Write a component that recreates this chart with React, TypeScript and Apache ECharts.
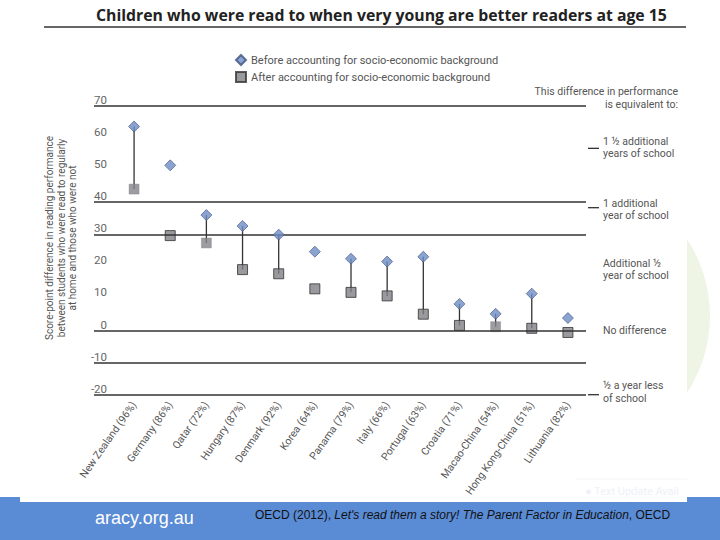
import React, { useEffect, useRef } from "react";
import * as echarts from "echarts";

const categories = [
  "New Zealand (96%)",
  "Germany (86%)",
  "Qatar (72%)",
  "Hungary (87%)",
  "Denmark (92%)",
  "Korea (64%)",
  "Panama (79%)",
  "Italy (66%)",
  "Portugal (63%)",
  "Croatia (71%)",
  "Macao-China (54%)",
  "Hong Kong-China (51%)",
  "Lithuania (82%)",
];
const beforeValues = [63.6, 51.5, 36.0, 32.6, 29.9, 24.6, 22.4, 21.5, 23.0, 8.3, 5.2, 11.5, 3.9];
const afterValues = [44.1, 29.6, 27.3, 19.0, 17.7, 13.0, 11.9, 10.8, 5.1, 1.6, 1.2, 0.7, -0.6];
const significantDiff = [true, false, true, true, true, false, true, true, true, true, true, true, false];
const afterOutlined = [false, true, false, true, true, true, true, true, true, true, false, true, true];

const gridLineValues = [70, 40, 30, 0, -10, -20];
const equivalentTickValues = [56.8, 38.3, -20];
const equivalentLabels = [
  "1 \u00bd additional\nyears of school",
  "1 additional\nyear of school",
  "Additional \u00bd\nyear of school",
  "No difference",
  "\u00bd a year less\nof school",
];
const equivalentLabelValues = [57, 37.7, 19, 0, -19.2];

const TITLE = "Children who were read to when very young are better readers at age 15";
const BEFORE_NAME = "Before accounting for socio-economic background";
const AFTER_NAME = "After accounting for socio-economic background";
const Y_NAME_LINES = [
  "Score-point difference in reading performance",
  "between students who were read to regularly",
  "at home and those who were not",
];

const FONT = 'Roboto, "Noto Sans", sans-serif';
const TXT = "#555";

export default function App() {
  const ref = useRef<HTMLDivElement>(null);

  useEffect(() => {
    if (!ref.current) return;
    const chart = echarts.init(ref.current, undefined, { renderer: "svg" });

    const top = 106;
    const bottom = 540 - 394.7;
    const right = 720 - 586;

    const stemData = categories
      .map((_, i) => [i, beforeValues[i], afterValues[i]])
      .filter((_, i) => significantDiff[i]);

    const baseGraphic: any[] = [
      { type: "rect", z: -10, shape: { x: 0, y: 497, width: 720, height: 43 }, style: { fill: "#5A8BD5" }, silent: true },
      { type: "circle", z: -9, shape: { cx: 570, cy: 316, r: 140 }, style: { fill: "#EFF5E4" }, silent: true },
      { type: "rect", z: -8, shape: { x: 20, y: 0, width: 667, height: 502 }, style: { fill: "#ffffff" }, silent: true },
      {
        type: "text",
        z: 5,
        style: { text: TITLE, x: 96, y: 15, fontFamily: '"Open Sans", sans-serif', fontWeight: "bold", fontSize: 15.8, fill: "#222", textVerticalAlign: "middle" },
      },
      { type: "line", z: 5, shape: { x1: 44, y1: 27, x2: 686, y2: 27 }, style: { stroke: "#333", lineWidth: 1.5 } },
      ...Y_NAME_LINES.map((t, i) => ({
        type: "text",
        z: 5,
        rotation: Math.PI / 2,
        x: 49.5 + i * 11.5,
        y: 238,
        style: { text: t, fontFamily: FONT, fontSize: 10, fill: TXT, textAlign: "center", textVerticalAlign: "middle" },
      })),
      {
        type: "text",
        z: 5,
        style: {
          text: "aracy.org.au",
          x: 95,
          y: 518,
          fontFamily: '"Liberation Sans", Arial, sans-serif',
          fontSize: 18,
          fill: "#ffffff",
          textVerticalAlign: "middle",
        },
      },
      {
        type: "text",
        z: 5,
        style: {
          text: "{n|OECD (2012), }{i|Let's read them a story! The Parent Factor in Education}{n|, OECD}",
          x: 255,
          y: 515,
          textVerticalAlign: "middle",
          rich: {
            n: { fontFamily: '"Liberation Sans", Arial, sans-serif', fontSize: 12, fill: "#111" },
            i: { fontFamily: '"Liberation Sans", Arial, sans-serif', fontSize: 12, fontStyle: "italic", fill: "#111" },
          },
        },
      },
      {
        type: "text",
        z: 5,
        style: { text: "\u25cf Text Update Avail", x: 585, y: 491, fontFamily: FONT, fontSize: 11, fill: "#EEF1F6", textVerticalAlign: "middle" },
      },
      { type: "line", z: 5, shape: { x1: 575, y1: 479, x2: 687, y2: 479 }, style: { stroke: "#F3F5F8", lineWidth: 1 } },
    ];

    chart.setOption({
      animation: false,
      backgroundColor: "#ffffff",
      grid: [
        { left: 94, right, top, bottom, outerBoundsMode: "none", containLabel: false },
        { left: 116, right, top, bottom, outerBoundsMode: "none", containLabel: false },
      ],
      legend: {
        orient: "vertical",
        left: 230,
        top: 49,
        itemWidth: 10,
        itemHeight: 10,
        itemGap: 5,
        textStyle: { fontFamily: FONT, fontSize: 11, color: TXT },
        data: [
          { name: BEFORE_NAME, icon: "diamond" },
          { name: AFTER_NAME, icon: "rect" },
        ],
        selectedMode: false,
      },
      xAxis: [
        { type: "value", gridIndex: 0, min: 0, max: 1, show: false },
        {
          type: "category",
          gridIndex: 1,
          data: categories,
          boundaryGap: true,
          axisLine: { show: false },
          axisTick: { show: false },
          splitLine: { show: false },
          axisLabel: { rotate: 55, margin: 8, fontFamily: FONT, fontSize: 10.5, color: TXT, interval: 0 },
        },
      ],
      yAxis: [
        {
          type: "value",
          gridIndex: 0,
          min: -20,
          max: 70,
          interval: 10,
          axisLine: { show: false },
          axisTick: { show: false },
          splitLine: { show: false },
          axisLabel: {
            inside: true,
            align: "right",
            margin: 13,
            verticalAlign: "bottom",
            fontFamily: FONT,
            fontSize: 11.5,
            color: "#666",
          },
        },
        { type: "value", gridIndex: 1, min: -20, max: 70, interval: 10, show: false },
      ],
      series: [
        {
          type: "line",
          xAxisIndex: 0,
          yAxisIndex: 0,
          data: [],
          silent: true,
          markLine: {
            silent: true,
            symbol: ["none", "none"],
            label: { show: false },
            lineStyle: { color: "#333", width: 1.5, type: "solid" },
            data: gridLineValues.map((v) => ({ yAxis: v })),
          },
        },
        {
          type: "custom",
          xAxisIndex: 1,
          yAxisIndex: 1,
          z: 3,
          silent: true,
          data: stemData,
          encode: { x: 0, y: [1, 2] },
          renderItem: (params: any, api: any) => {
            const i = api.value(0);
            const p1 = api.coord([i, api.value(1)]);
            const p2 = api.coord([i, api.value(2)]);
            return {
              type: "line",
              shape: { x1: p1[0], y1: p1[1], x2: p2[0], y2: p2[1] },
              style: { stroke: "#333", lineWidth: 1.3 },
            };
          },
        },
        {
          name: AFTER_NAME,
          type: "scatter",
          xAxisIndex: 1,
          yAxisIndex: 1,
          z: 4,
          symbol: "rect",
          symbolSize: 10,
          itemStyle: { color: "#808086", borderColor: "#333", borderWidth: 1 },
          data: afterValues.map((v, i) => ({
            value: v,
            itemStyle: afterOutlined[i]
              ? { color: "#808086", borderColor: "#333", borderWidth: 1 }
              : { color: "#85858A", borderColor: "#85858A", borderWidth: 0.5 },
          })),
        },
        {
          name: BEFORE_NAME,
          type: "scatter",
          xAxisIndex: 1,
          yAxisIndex: 1,
          z: 5,
          symbol: "diamond",
          symbolSize: 11,
          itemStyle: { color: "#6E8CC6", borderColor: "#3E5280", borderWidth: 0.8 },
          data: beforeValues,
        },
      ],
      graphic: baseGraphic,
    });

    const yPix = (v: number) => chart.convertToPixel({ yAxisIndex: 0 }, v) as number;
    const extra: any[] = [];
    equivalentTickValues.forEach((v) => {
      const y = yPix(v);
      extra.push({ type: "line", z: 5, shape: { x1: 588, y1: y, x2: 599, y2: y }, style: { stroke: "#333", lineWidth: 1.3 } });
    });
    extra.push({
      type: "text",
      z: 5,
      style: {
        text: "This difference in performance\nis equivalent to:",
        x: 678,
        y: yPix(72.5),
        textAlign: "right",
        textVerticalAlign: "middle",
        fontFamily: FONT,
        fontSize: 10.5,
        lineHeight: 12.5,
        fill: TXT,
      },
    });
    equivalentLabels.forEach((t, i) => {
      extra.push({
        type: "text",
        z: 5,
        style: {
          text: t,
          x: 603,
          y: yPix(equivalentLabelValues[i]),
          textAlign: "left",
          textVerticalAlign: "middle",
          fontFamily: FONT,
          fontSize: 10.5,
          lineHeight: 12.5,
          fill: TXT,
        },
      });
    });
    chart.setOption({ graphic: baseGraphic.concat(extra) });

    return () => chart.dispose();
  }, []);

  return <div ref={ref} style={{ position: "fixed", left: 0, top: 0, width: 720, height: 540 }} />;
}
